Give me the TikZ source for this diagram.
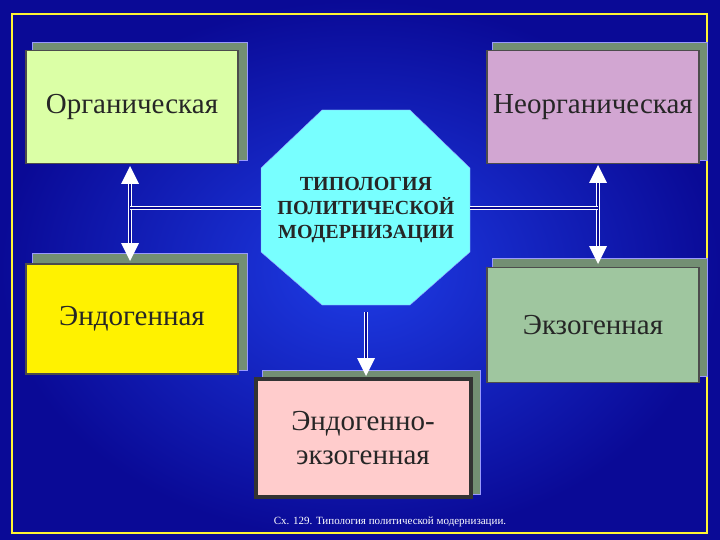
\documentclass[tikz,border=0pt]{standalone}
\usepackage{fontspec}
\setmainfont{Liberation Serif}
\usetikzlibrary{shapes.geometric,calc}
\definecolor{octc}{RGB}{120,255,255}
\definecolor{bgin}{RGB}{30,60,230}
\definecolor{bgout}{RGB}{10,10,150}
\begin{document}
\begin{tikzpicture}[x=1pt,y=-1pt,
  box/.style={draw=black!70,line width=1.5pt,minimum width=212pt,minimum height=113pt,font=\fontsize{29}{34}\selectfont,text=black!85,align=center,inner sep=0pt},
  shadow/.style={fill=green!20!black!55,draw=blue!40,line width=0.5pt},
  dbl/.style={draw=white,line width=1pt,double=bgout,double distance=2pt},
  tip/.style={fill=white}]
\useasboundingbox (0,0) rectangle (720,540);
\shade[inner color=bgin,outer color=bgout] (0,0) rectangle (720,540);
\draw[yellow!80!white,line width=1.2pt] (12,14) rectangle (707,533);
% shadows
\fill[shadow] (32,42) rectangle (247,160);
\fill[shadow] (492,42) rectangle (707,160);
\fill[shadow] (32,253) rectangle (247,370);
\fill[shadow] (492,258) rectangle (707,376);
\fill[shadow] (262,370) rectangle (480,494);
% boxes
\node[box,fill=green!40!yellow!35!white] (org) at (132,107) {Органическая};
\node[box,fill=violet!35!white] (neo) at (593,107) {Неорганическая};
\node[box,fill=yellow,minimum height=110pt] (endo) at (132,319) {Эндогенная};
\node[box,fill=green!25!gray!60!white,minimum height=115pt] (exo) at (593,325) {Экзогенная};
\node[box,fill=red!20!white,draw=black!80,line width=4pt,minimum width=215pt,minimum height=118pt] (ee) at (363,438) {Эндогенно-\\экзогенная};
% octagon
\fill[octc,draw=blue!40] (322,110) -- (410,110) -- (470,168) -- (470,252) -- (410,305) -- (322,305) -- (261,252) -- (261,168) -- cycle;
\node[font=\bfseries\fontsize{20}{24}\selectfont,align=center,text=black!85] (oct) at (366,210) {ТИПОЛОГИЯ\\ПОЛИТИЧЕСКОЙ\\МОДЕРНИЗАЦИИ};
\coordinate (octw) at (261,208); \coordinate (octe) at (470,208);
% connectors
\coordinate (lt) at (130,166); \coordinate (lb) at (130,261);
\coordinate (rt) at (598,165); \coordinate (rb) at (598,264);
\coordinate (lm) at (130,208); \coordinate (rm) at (598,208);
\coordinate (dt) at (366,312); \coordinate (db) at (366,376);
\draw[dbl] ($(lt)+(0,15)$) -- ($(lb)-(0,15)$);
\draw[dbl] ($(rt)+(0,15)$) -- ($(rb)-(0,15)$);
\draw[dbl] (lm) -- (octw);
\draw[dbl] (rm) -- (octe);
\draw[dbl] (dt) -- ($(db)-(0,15)$);
\fill[tip] (lt) -- ++(-9,18) -- ++(18,0) -- cycle;
\fill[tip] (lb) -- ++(-9,-18) -- ++(18,0) -- cycle;
\fill[tip] (rt) -- ++(-9,18) -- ++(18,0) -- cycle;
\fill[tip] (rb) -- ++(-9,-18) -- ++(18,0) -- cycle;
\fill[tip] (db) -- ++(-9,-18) -- ++(18,0) -- cycle;
\node[text=white,font=\fontsize{11}{13}\selectfont] (cap) at (390,522) {Сх. 129. Типология политической модернизации.};
\end{tikzpicture}
\end{document}
